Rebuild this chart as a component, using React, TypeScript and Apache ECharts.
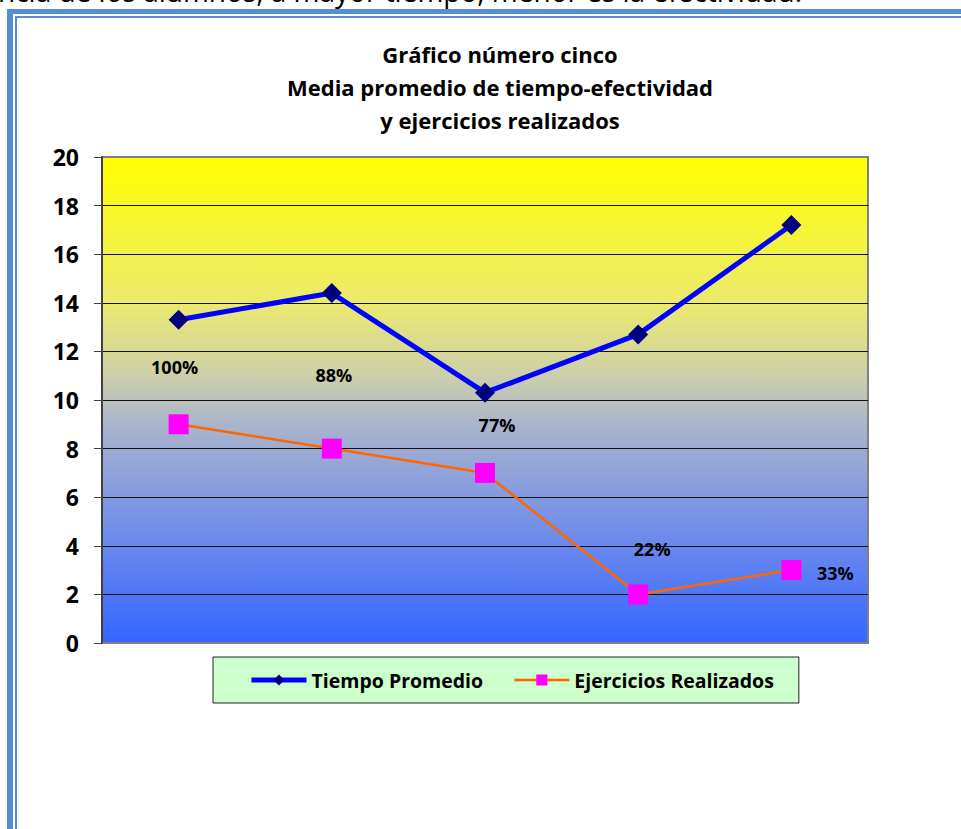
import React, { useEffect, useRef } from 'react';
import * as echarts from 'echarts';

// ---- data ----
const categories = ['1', '2', '3', '4', '5'];
const tiempoPromedio = [13.3, 14.4, 10.3, 12.7, 17.2];
const ejerciciosRealizados = [9, 8, 7, 2, 3];
const efectividad = ['100%', '88%', '77%', '22%', '33%'];
const seriesNames = ['Tiempo Promedio', 'Ejercicios Realizados'];
const titleLines = ['Gráfico número cinco', 'Media promedio de tiempo-efectividad', 'y ejercicios realizados'];
const yMin = 0;
const yMax = 20;
const yInterval = 2;
const pageText = 'ncia de los alumnos, a mayor tiempo, menor es la efectividad.';

// ---- layout / style (not data) ----
const labelOffsets: [number, number][] = [[-4, -57], [2, -74], [12, -48], [14, -45], [44, 3]];
const FONT = 'Open Sans';
const FRAME = '#558ED5';

export default function App() {
  const ref = useRef<HTMLDivElement>(null);
  useEffect(() => {
    if (!ref.current) return;
    const chart = echarts.init(ref.current, null, { renderer: 'svg' });
    const nLines = (yMax - yMin) / yInterval + 1;
    const splitColors = Array.from({ length: nLines }, (_, i) =>
      i === 0 || i === nLines - 1 ? 'rgba(0,0,0,0)' : '#111'
    );
    chart.setOption({
      animation: false,
      backgroundColor: '#fff',
      textStyle: { fontFamily: FONT },
      title: {
        text: titleLines.join('\n'),
        left: 495,
        top: 32,
        textAlign: 'center',
        textStyle: { fontFamily: FONT, fontWeight: 'bold', fontSize: 22, lineHeight: 33, color: '#000' },
      },
      legend: {
        left: 213,
        top: 657,
        backgroundColor: '#CCFFCC',
        borderColor: '#222',
        borderWidth: 1,
        padding: [13, 25, 13, 36],
        itemWidth: 55,
        itemHeight: 14,
        itemGap: 30,
        textStyle: { fontFamily: FONT, fontWeight: 'bold', fontSize: 19.5, color: '#000' },
        data: [
          { name: seriesNames[0], lineStyle: { width: 5, color: '#0000FF' } },
          { name: seriesNames[1], lineStyle: { width: 2.5, color: '#FF6600' } },
        ],
      },
      grid: {
        left: 102,
        top: 157,
        right: 93,
        bottom: 186,
        show: true,
        borderColor: '#808080',
        borderWidth: 2,
        backgroundColor: new echarts.graphic.LinearGradient(0, 0, 0, 1, [
          { offset: 0, color: '#FFFF00' },
          { offset: 0.3, color: '#ECEA6E' },
          { offset: 0.45, color: '#CDCFAA' },
          { offset: 0.55, color: '#AAB4CC' },
          { offset: 0.8, color: '#6A88EE' },
          { offset: 1, color: '#3366FF' },
        ]),
      },
      xAxis: {
        type: 'category',
        data: categories,
        boundaryGap: true,
        axisLine: { show: false },
        axisTick: { show: false },
        axisLabel: { show: false },
      },
      yAxis: {
        type: 'value',
        min: yMin,
        max: yMax,
        interval: yInterval,
        axisLine: { show: true, lineStyle: { color: '#404040', width: 2 } },
        axisTick: { show: true, inside: false, length: 8, lineStyle: { color: '#404040', width: 1 } },
        axisLabel: { margin: 23, fontFamily: FONT, fontWeight: 'bold', fontSize: 23, color: '#000' },
        splitLine: { show: true, lineStyle: { color: splitColors, width: 1 } },
      },
      series: [
        {
          name: seriesNames[0],
          type: 'line',
          data: tiempoPromedio,
          symbol: 'diamond',
          symbolSize: 20,
          itemStyle: { color: '#000080' },
          lineStyle: { color: '#0000FF', width: 5 },
          z: 3,
        },
        {
          name: seriesNames[1],
          type: 'line',
          symbol: 'rect',
          symbolSize: 20,
          itemStyle: { color: '#FF00FF' },
          lineStyle: { color: '#FF6600', width: 2.5 },
          z: 2,
          data: ejerciciosRealizados.map((v, i) => ({
            value: v,
            label: {
              show: true,
              position: 'inside',
              offset: labelOffsets[i],
              formatter: efectividad[i],
              fontFamily: FONT,
              fontWeight: 'bold',
              fontSize: 18,
              color: '#000',
            },
          })),
        },
      ],
      graphic: [
        {
          type: 'text',
          x: -2,
          y: -23,
          style: { text: pageText, fontFamily: FONT, fontSize: 28, fill: '#000', textVerticalAlign: 'top' },
          silent: true,
        },
        { type: 'rect', shape: { x: 7, y: 9, width: 6, height: 830 }, style: { fill: FRAME }, silent: true },
        { type: 'rect', shape: { x: 7, y: 9, width: 960, height: 5 }, style: { fill: FRAME }, silent: true },
        { type: 'rect', shape: { x: 15, y: 16, width: 2, height: 830 }, style: { fill: FRAME }, silent: true },
        { type: 'rect', shape: { x: 15, y: 16, width: 950, height: 2 }, style: { fill: FRAME }, silent: true },
      ],
    });
    return () => chart.dispose();
  }, []);
  return (
    <div
      ref={ref}
      style={{ position: 'absolute', left: 0, top: 0, width: 961, height: 829, background: '#fff' }}
    />
  );
}
